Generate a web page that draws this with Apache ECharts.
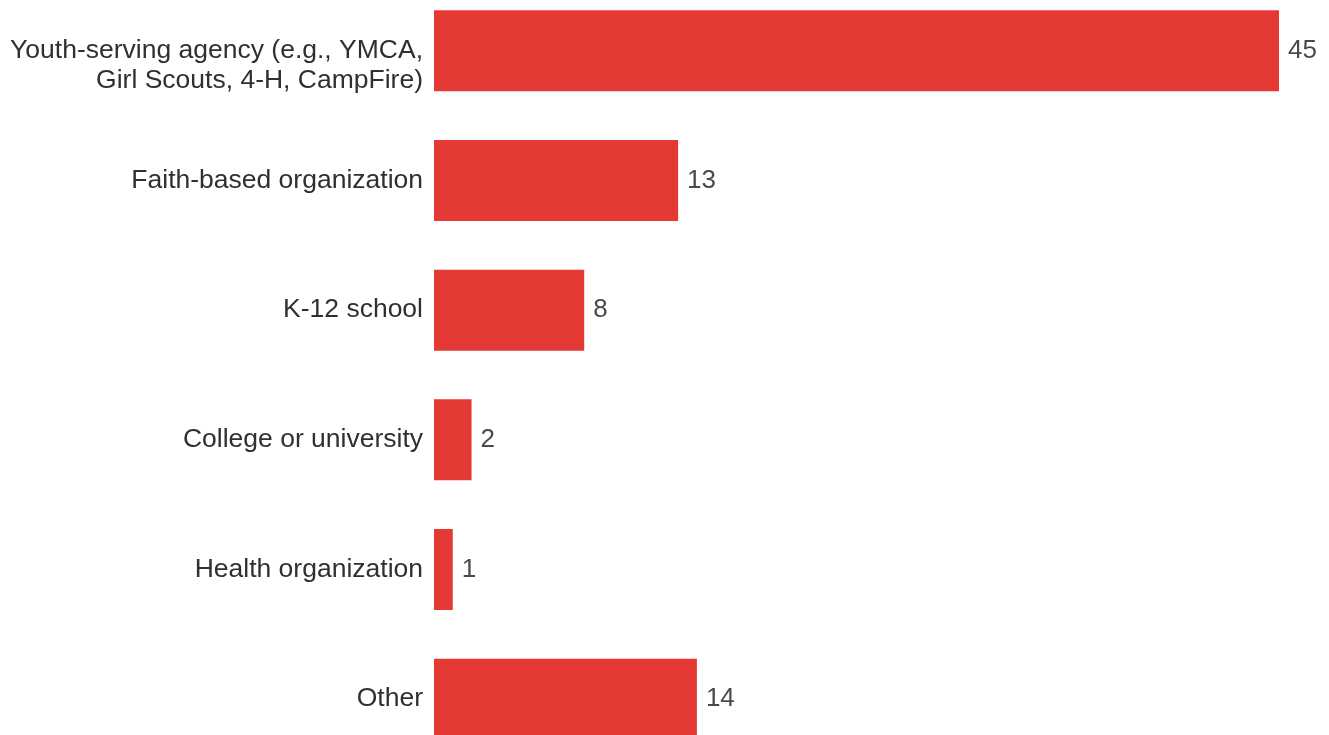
<!DOCTYPE html>
<html>
<head>
<meta charset="utf-8">
<script src="https://cdn.jsdelivr.net/npm/echarts@6/dist/echarts.min.js"></script>
<style>
  html, body { margin: 0; padding: 0; background: #fff; overflow: hidden; width: 1329px; height: 735px; }
  #main { position: absolute; left: 0; top: -14px; width: 1329px; height: 778px; }
</style>
</head>
<body>
<div id="main"></div>
<script>
const categories = [
  'Youth-serving agency (e.g., YMCA,\nGirl Scouts, 4-H, CampFire)',
  'Faith-based organization',
  'K-12 school',
  'College or university',
  'Health organization',
  'Other'
]
const counts = [45, 13, 8, 2, 1, 14]

const chart = echarts.init(document.getElementById('main'))
chart.setOption({
  animation: false,
  grid: { left: 434, right: 50, top: 0, bottom: 0, containLabel: false },
  xAxis: {
    type: 'value',
    min: 0,
    max: 45,
    show: false
  },
  yAxis: {
    type: 'category',
    inverse: true,
    data: categories,
    axisLine: { show: false },
    axisTick: { show: false },
    axisLabel: {
      margin: 11,
      fontFamily: '"Liberation Sans", Arial, sans-serif',
      fontSize: 26.5,
      lineHeight: 30,
      color: '#303030',
      align: 'right',
      // two-line label sits with its first line on the bar centre
      formatter: v => v.indexOf('\n') >= 0 ? ' \n' + v : v
    }
  },
  series: [{
    type: 'bar',
    data: counts,
    barCategoryGap: '37.5%',
    itemStyle: { color: '#e53935' },
    label: {
      show: true,
      position: 'right',
      distance: 9,
      fontFamily: '"Liberation Sans", Arial, sans-serif',
      fontSize: 26,
      color: '#4a4a4a'
    }
  }]
})
</script>
</body>
</html>
